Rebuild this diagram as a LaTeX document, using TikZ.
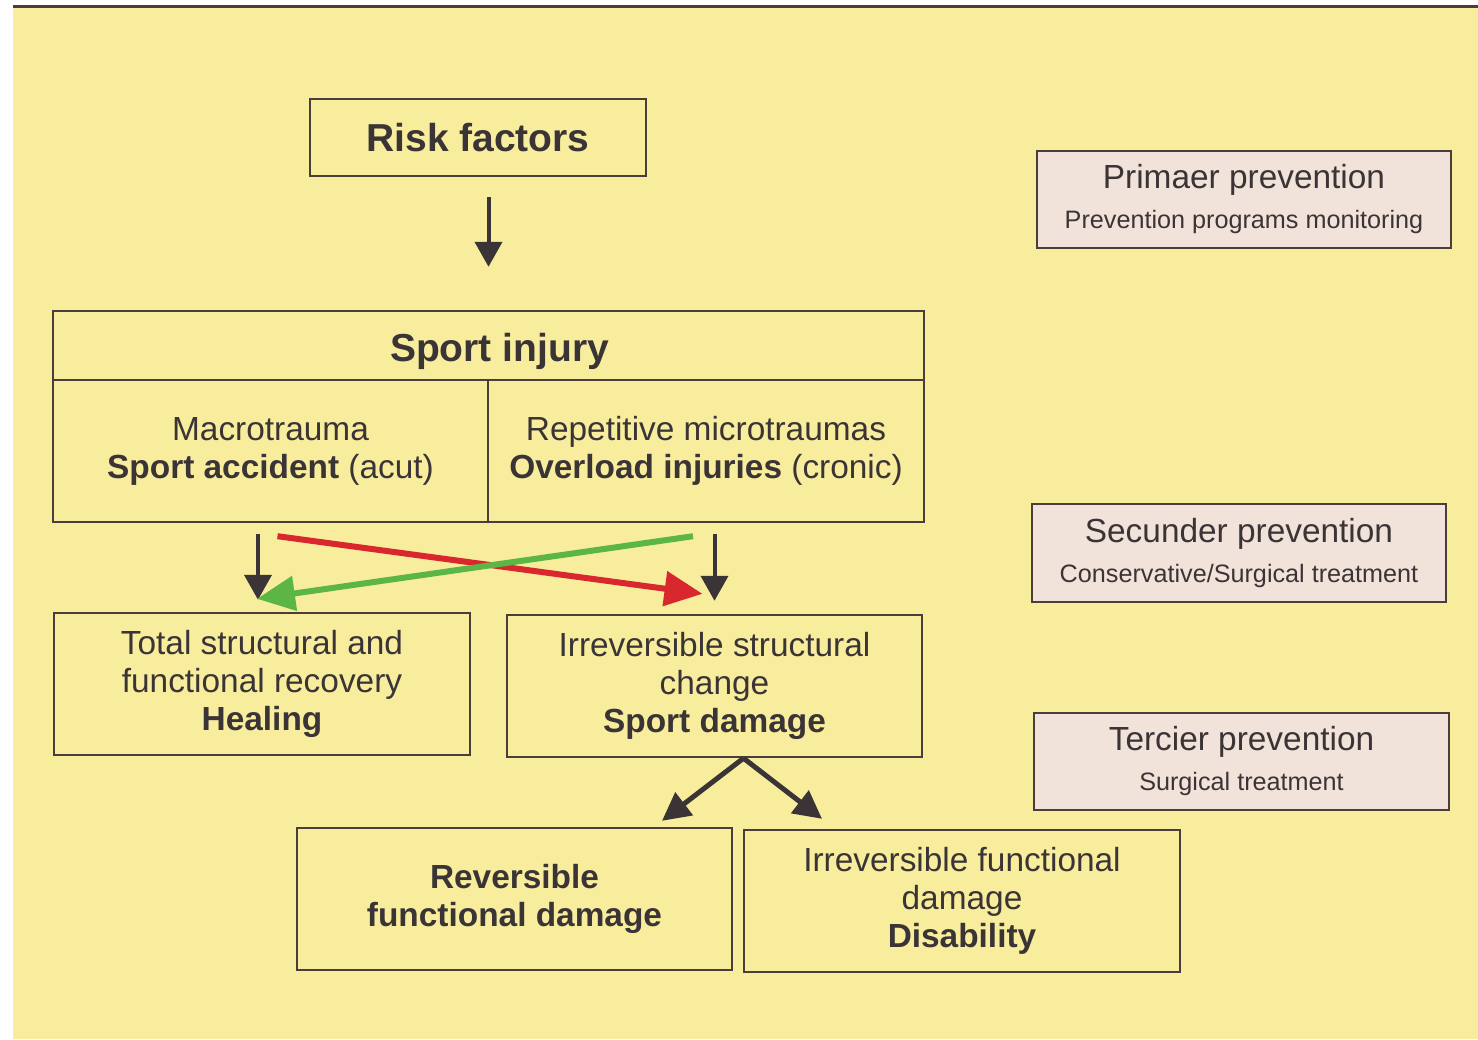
\documentclass[tikz,border=0pt]{standalone}
\usepackage{fontspec}
\setmainfont{Liberation Sans}
\usetikzlibrary{arrows.meta}

\definecolor{bgyellow}{HTML}{F7ED9D}
\definecolor{boxline}{HTML}{4A3D3B}
\definecolor{ink}{HTML}{3B3436}
\definecolor{prevfill}{HTML}{F2E3DA}
\definecolor{redarr}{HTML}{D8282E}
\definecolor{greenarr}{HTML}{5CB646}

\newcommand{\headsize}{\fontsize{19.5}{23}\selectfont}
\newcommand{\txtsize}{\fontsize{16.7}{19}\selectfont}
\newcommand{\subsize}{\fontsize{12.6}{15}\selectfont}

\tikzset{
  box/.style={draw=boxline, line width=1.2pt, text=ink, align=center,
    inner sep=0pt, font=\txtsize},
  prevbox/.style={box, fill=prevfill},
  arr/.style={draw=ink, line width=2pt, -{Triangle[length=12.5pt,width=13.5pt]}},
  bigarr/.style={line width=3pt, -{Triangle[length=19pt,width=17pt]}},
  splitarr/.style={draw=ink, line width=2.5pt, -{Triangle[length=14pt,width=14pt]}},
}

\begin{document}
\begin{tikzpicture}[x=0.5pt, y=-0.5pt]
\useasboundingbox (0,0) rectangle (1478,1039);
\fill[white] (0,0) rectangle (1478,1039);
\fill[bgyellow] (13,7) rectangle (1478,1039);
\draw[boxline, line width=1.5pt] (13,6) -- (1478,6);

% main chain
\node[box, minimum width=168pt, minimum height=38.5pt, font=\headsize\bfseries] (risk) at (478,137.5) {Risk factors};
\node[box, minimum width=435.5pt, minimum height=34.5pt, font=\headsize\bfseries] (injury) at (488.5,345.5) {\hspace*{11pt}\raisebox{-3pt}[10pt][0pt]{Sport injury}};
\node[box, minimum width=217.5pt, minimum height=71pt] (macro) at (270.5,451) {Macrotrauma\\\textbf{Sport accident} (acut)};
\node[box, minimum width=218pt, minimum height=71pt] (micro) at (706,451) {Repetitive microtraumas\\\textbf{Overload injuries} (cronic)};
\node[box, minimum width=208pt, minimum height=71pt] (heal) at (262,684) {Total structural and\\functional recovery\\\textbf{Healing}};
\node[box, minimum width=207.5pt, minimum height=71pt] (damage) at (714.5,686) {Irreversible structural\\change\\\textbf{Sport damage}};
\node[box, minimum width=217.5pt, minimum height=71pt, font=\txtsize\bfseries] (rev) at (514.5,899) {Reversible\\functional damage};
\node[box, minimum width=218pt, minimum height=71pt] (disab) at (962,901) {Irreversible functional\\damage\\\textbf{Disability}};

% prevention levels
\node[prevbox, minimum width=207pt, minimum height=48.5pt] (prim) at (1244,199.5) {Primaer prevention\\[1pt]{\subsize Prevention programs monitoring}};
\node[prevbox, minimum width=207pt, minimum height=49pt] (sec) at (1239,553) {Secunder prevention\\[1pt]{\subsize Conservative/Surgical treatment}};
\node[prevbox, minimum width=207.5pt, minimum height=48.5pt] (ter) at (1241.5,761.5) {Tercier prevention\\[1pt]{\subsize Surgical treatment}};

% arrows
\draw[arr, shorten <=10pt, shorten >=21.5pt] (risk.south -| injury.north) -- (injury.north);
\draw[arr, shorten <=5.5pt, shorten >=6pt] ([xshift=-2pt]heal.north |- macro.south) -- ([xshift=-2pt]heal.north);
\draw[arr, shorten <=5.5pt, shorten >=6.5pt] (damage.north |- micro.south) -- (damage.north);
\draw[bigarr, redarr] ([xshift=3.5pt,yshift=-6.5pt]macro.south) -- ([xshift=-6pt,yshift=10pt]damage.north);
\draw[bigarr, greenarr] ([xshift=-6.5pt,yshift=-6.5pt]micro.south) -- ([xshift=-2.5pt,yshift=6.5pt]heal.north);
\draw[splitarr] ([xshift=14.5pt]damage.south) -- ([xshift=73.75pt,yshift=3pt]rev.north);
\draw[splitarr] ([xshift=14.5pt]damage.south) -- ([xshift=-70pt,yshift=5pt]disab.north);
\end{tikzpicture}
\end{document}
